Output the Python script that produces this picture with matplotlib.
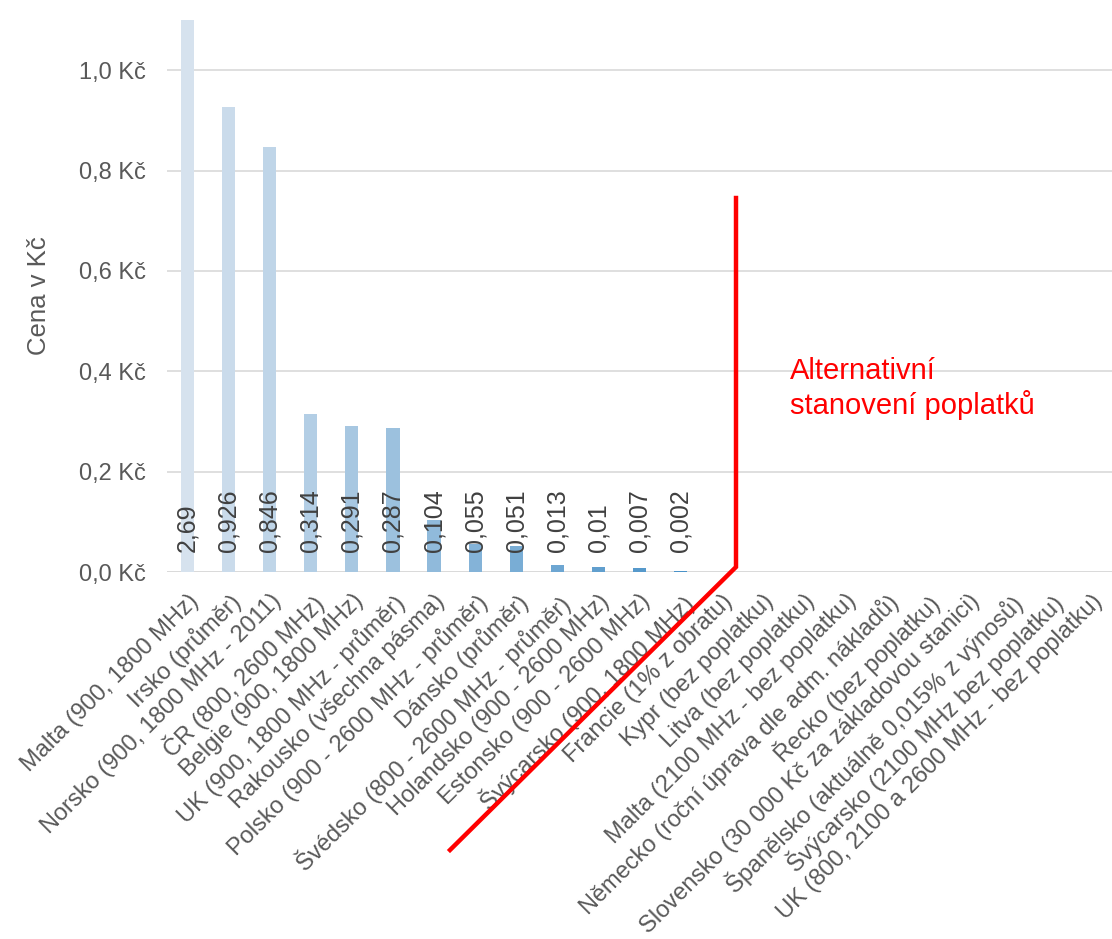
import matplotlib
matplotlib.use("Agg")
import matplotlib.pyplot as plt
from matplotlib.lines import Line2D
from matplotlib.ticker import FuncFormatter
import numpy as np

plt.rcParams['font.family'] = ['Liberation Sans', 'DejaVu Sans']

categories = [
    "Malta (900, 1800 MHz)",
    "Irsko (průměr)",
    "Norsko (900, 1800 MHz - 2011)",
    "ČR (800, 2600 MHz)",
    "Belgie (900, 1800 MHz)",
    "UK (900, 1800 MHz - průměr)",
    "Rakousko (všechna pásma)",
    "Polsko (900 - 2600 MHz - průměr)",
    "Dánsko (průměr)",
    "Švédsko (800 - 2600 MHz - průměr)",
    "Holandsko (900 - 2600 MHz)",
    "Estonsko (900 - 2600 MHz)",
    "Švýcarsko (900, 1800 MHz)",
    "Francie (1% z obratu)",
    "Kypr (bez poplatku)",
    "Litva (bez poplatku)",
    "Malta (2100 MHz - bez poplatku)",
    "Německo (roční úprava dle adm. nákladů)",
    "Řecko (bez poplatku)",
    "Slovensko (30 000 Kč za základovou stanici)",
    "Španělsko (aktuálně 0,015% z výnosů)",
    "Švýcarsko (2100 MHz bez poplatku)",
    "UK (800, 2100 a 2600 MHz - bez poplatku)",
]
values = [2.69, 0.926, 0.846, 0.314, 0.291, 0.287, 0.104, 0.055, 0.051,
          0.013, 0.01, 0.007, 0.002]
value_labels = ["2,69", "0,926", "0,846", "0,314", "0,291", "0,287", "0,104",
                "0,055", "0,051", "0,013", "0,01", "0,007", "0,002"]

W, H = 1112, 939
fig = plt.figure(figsize=(W / 100, H / 100), dpi=100)
left, right, bottom_px, top_px = 167, 1112, 572, 20
ax = fig.add_axes([left / W, 1 - bottom_px / H, (right - left) / W, (bottom_px - top_px) / H])

n = len(values)
c0 = np.array([214, 226, 238]) / 255
c1 = np.array([74, 146, 200]) / 255
colors = [tuple(c0 + (c1 - c0) * i / (n - 1)) for i in range(n)]

x = np.arange(len(categories))
ax.bar(x[:n], values, width=0.32, color=colors, zorder=2)

for xi, lab in zip(x[:n], value_labels):
    ax.text(xi, 0.04, lab, rotation=90, ha='center', va='bottom',
            fontsize=18, color='#404040', zorder=3)

ax.set_xlim(-0.5, len(categories) - 0.5)
ax.set_ylim(0, 1.1)
ax.set_yticks([0, 0.2, 0.4, 0.6, 0.8, 1.0])
ax.yaxis.set_major_formatter(FuncFormatter(lambda v, p: f"{v:.1f} Kč".replace('.', ',')))
ax.grid(axis='y', color='#d9d9d9', linewidth=1.2, zorder=0)
ax.set_axisbelow(True)
for s in ax.spines.values():
    s.set_visible(False)
ax.axhline(0, color='#d9d9d9', linewidth=1.2, zorder=1)
ax.tick_params(axis='both', length=0, labelsize=17, colors='#595959')
ax.tick_params(axis='y', pad=15)
ax.set_xticks(x)
ax.set_xticklabels(categories, rotation=45, ha='right', rotation_mode='anchor')
ax.tick_params(axis='x', pad=13)
ax.set_ylabel("Cena v Kč", fontsize=18.5, color='#595959')
ax.yaxis.set_label_coords((51 - left) / (right - left), 0.5)

# red annotation line
pts = [(736, 198), (736, 567), (450, 850)]
fig.add_artist(Line2D([p[0] / W for p in pts], [1 - p[1] / H for p in pts],
                      transform=fig.transFigure, color='#ff0000', linewidth=3.2,
                      solid_joinstyle='miter', zorder=10))
fig.text(790 / W, 1 - 357 / H, "Alternativní\nstanovení poplatků", color='#ff0000',
         fontsize=21, ha='left', va='top', linespacing=1.2)

fig.savefig("out.png", dpi=100)
